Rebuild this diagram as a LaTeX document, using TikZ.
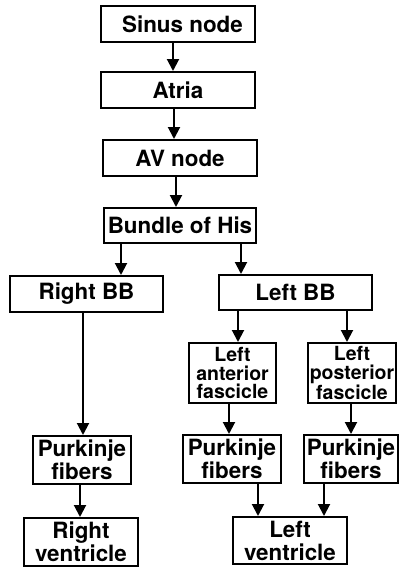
\documentclass[tikz,border=0pt]{standalone}
\usepackage{fontspec}
\setmainfont{TeX Gyre Heros}
\usetikzlibrary{arrows.meta}
\begin{document}
\begin{tikzpicture}[x=1pt,y=-1pt,
  box/.style={draw=black,line width=2pt,inner sep=0pt,align=center,
    font=\bfseries\fontsize{22.4}{23}\selectfont},
  smallbox/.style={box,font=\bfseries\fontsize{19.5}{18.5}\selectfont},
  arr/.style={line width=2pt,-{Triangle[width=12pt,length=12pt]}},
  ln/.style={line width=2pt}]
\useasboundingbox (0,0) rectangle (405,570);
\node[box,minimum width=154pt,minimum height=36pt] (sinus) at (178,24) {\hspace*{9pt}Sinus node};
\node[box,minimum width=154pt,minimum height=36pt] (atria) at (178,90) {Atria};
\node[box,minimum width=154pt,minimum height=36pt] (av) at (180,158) {AV node};
\node[box,minimum width=152pt,minimum height=35pt] (his) at (180,225.5) {Bundle of His};
\node[box,minimum width=153pt,minimum height=36pt] (rbb) at (86.5,294) {Right BB};
\node[box,minimum width=153pt,minimum height=35pt] (lbb) at (295.5,292.5) {Left BB};
\node[smallbox,minimum width=87pt,minimum height=60pt] (laf) at (232.5,373) {Left\\anterior\\fascicle};
\node[smallbox,minimum width=88pt,minimum height=60pt] (lpf) at (352,373) {Left\\posterior\\fascicle};
\node[box,minimum width=98pt,minimum height=48pt] (pr) at (82,460) {Purkinje\\fibers};
\node[box,minimum width=98pt,minimum height=48pt] (pm) at (232,459) {Purkinje\\fibers};
\node[box,minimum width=94pt,minimum height=48pt] (pl) at (351,459) {Purkinje\\fibers};
\node[box,minimum width=114pt,minimum height=48pt] (rv) at (81,542) {Right\\ventricle};
\node[box,minimum width=114pt,minimum height=47pt] (lv) at (290,540.5) {Left\\ventricle};
\draw[arr] (173,0 |- sinus.south) -- (173,0 |- atria.north);
\draw[arr] (174,0 |- atria.south) -- (174,0 |- av.north);
\draw[arr] (176,0 |- av.south) -- (176,0 |- his.north);
\draw[arr] (121,0 |- his.south) -- (121,0 |- rbb.north);
\draw[arr] (241,0 |- his.south) -- (241,0 |- lbb.north);
\draw[arr] (83,0 |- rbb.south) -- (83,0 |- pr.north);
\draw[arr] (238,0 |- lbb.south) -- (238,0 |- laf.north);
\draw[arr] (347,0 |- lbb.south) -- (347,0 |- lpf.north);
\draw[arr] (229,0 |- laf.south) -- (229,0 |- pm.north);
\draw[arr] (351,0 |- lpf.south) -- (351,0 |- pl.north);
\draw[arr] (80,0 |- pr.south) -- (80,0 |- rv.north);
\draw[arr] (258,0 |- pm.south) -- (258,0 |- lv.north);
\draw[arr] (324,0 |- pl.south) -- (324,0 |- lv.north);
\end{tikzpicture}
\end{document}
